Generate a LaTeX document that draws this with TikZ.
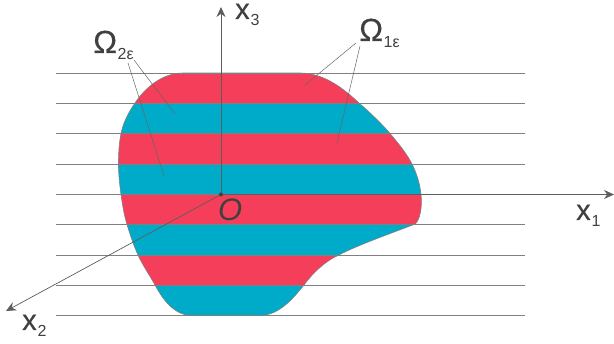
\documentclass[tikz,border=0pt]{standalone}
\usepackage{fontspec}
\setmainfont{Liberation Sans}
\newfontfamily\heavy[FakeBold=0.35]{Liberation Sans}
\usetikzlibrary{arrows.meta}
\definecolor{redband}{HTML}{F43E5A}
\definecolor{blueband}{HTML}{00ABC9}
\definecolor{inkgray}{HTML}{404040}
\definecolor{linegray}{HTML}{808080}
\tikzset{
  x=1pt,y=-1pt,
  hline/.style={draw=linegray,line width=0.9pt},
  axisline/.style={draw=inkgray!85,line width=0.7pt,-{Stealth[length=10pt,width=9pt]}},
  leader/.style={draw=inkgray!80,line width=0.5pt},
  lbl/.style={text=inkgray,inner sep=0pt,anchor=base west},
  outline/.style={draw=linegray,line width=0.6pt}
}
\newcommand{\axlabel}[2]{{\heavy\fontsize{29}{29}\selectfont #1}\kern1pt\raisebox{-6.5pt}{\fontsize{16}{16}\selectfont #2}}
\newcommand{\omlabel}[1]{{\heavy\fontsize{32}{32}\selectfont Ω}\kern0.5pt\raisebox{-6.5pt}{\fontsize{16}{16}\selectfont #1}}
\def\blob{(183,73) -- (300,73)
  .. controls (325,73) and (345,90) .. (359,103)
  .. controls (370.5,113) and (381.5,123.5) .. (390,133.5)
  .. controls (398.5,143.5) and (407,154) .. (412,164)
  .. controls (417,174) and (420,184.5) .. (421,194.5)
  .. controls (422.5,206) and (420,222.2) .. (414,224.5)
  .. controls (400,230) and (355,246) .. (339,255)
  .. controls (325,261) and (312,274) .. (304,285)
  .. controls (295,296) and (280,315.5) .. (260,315.5)
  -- (192,315.5)
  .. controls (172,315.5) and (160.5,295) .. (155,285)
  .. controls (149.5,275) and (142.5,265) .. (138,255)
  .. controls (133.5,245) and (130,234.5) .. (127,224.5)
  .. controls (124,214.5) and (122.4,204.5) .. (121,194.5)
  .. controls (119.6,184.5) and (118.5,174) .. (118.5,164)
  .. controls (118.5,154) and (119,143.5) .. (121,133.5)
  .. controls (123,123.5) and (128,113) .. (135,103)
  .. controls (145,88) and (162,73) .. (183,73) -- cycle}
\begin{document}
\begin{tikzpicture}
\useasboundingbox (0,0) rectangle (614,344);
\begin{scope}
  \clip \blob;
  \fill[redband] (100,73) rectangle (440,103);
  \fill[blueband] (100,103) rectangle (440,133.5);
  \fill[redband] (100,133.5) rectangle (440,164);
  \fill[blueband] (100,164) rectangle (440,194.5);
  \fill[redband] (100,194.5) rectangle (440,224.5);
  \fill[blueband] (100,224.5) rectangle (440,255);
  \fill[redband] (100,255) rectangle (440,285);
  \fill[blueband] (100,285) rectangle (440,316);
\end{scope}
\draw[outline] \blob;
\foreach \n/\y in {a/73,b/103,c/133.5,d/164,e/194.5,f/224.5,g/255,h/285,i/315.5}{
  \coordinate (l\n) at (56,\y);
  \coordinate (r\n) at (525,\y);
  \draw[hline] (l\n) -- (r\n);
}
\coordinate (O) at (221,194.5);
\coordinate (x1end) at (614,194.5);
\coordinate (x3end) at (221,7);
\coordinate (x2end) at (6,311);
\draw[axisline] (O) -- (x1end);
\draw[axisline] (O) -- (x3end);
\draw[axisline] (O) -- (x2end);
\fill[inkgray] (O) circle (2pt);
\node[lbl] (lblx3) at (235,19) {\axlabel{x}{3}};
\node[lbl] (lblx1) at (576,220) {\axlabel{x}{1}};
\node[lbl] (lblx2) at (22,330) {\axlabel{x}{2}};
\node[lbl] (lblO) at (218,220.5) {\fontsize{31}{31}\selectfont\itshape O};
\node[lbl] (om2) at (93,53) {\omlabel{2ε}};
\node[lbl] (om1) at (359,41) {\omlabel{1ε}};
\coordinate (om2a) at (134,60);
\coordinate (om2b) at (128,63);
\coordinate (t2a) at (175,114);
\coordinate (t2b) at (164,176);
\coordinate (om1a) at (356,43);
\coordinate (om1b) at (360,46);
\coordinate (t1a) at (305,85);
\coordinate (t1b) at (337,143);
\draw[leader] (om2a) -- (t2a);
\draw[leader] (om2b) -- (t2b);
\draw[leader] (om1a) -- (t1a);
\draw[leader] (om1b) -- (t1b);
\end{tikzpicture}
\end{document}
